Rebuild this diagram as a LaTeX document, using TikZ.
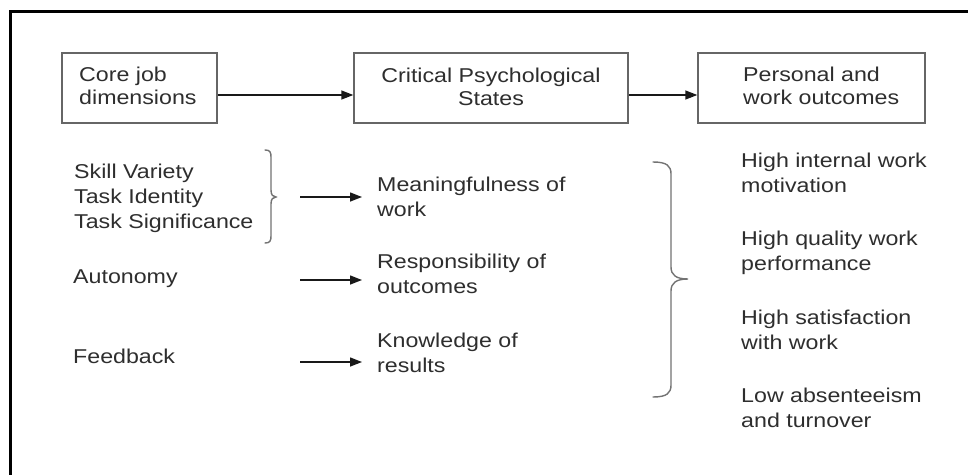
\documentclass[tikz,border=0pt]{standalone}
\usepackage{fontspec}
\setmainfont[FakeStretch=1.16]{Liberation Sans}
\usetikzlibrary{arrows.meta}
\begin{document}
\begin{tikzpicture}[x=1pt,y=-1pt,
  txt/.style={font=\fontsize{20}{25}\selectfont, text=black!82, align=left, inner sep=0pt, anchor=base west},
  btxt/.style={txt, font=\fontsize{20}{22.5}\selectfont},
  ctxt/.style={btxt, align=center, anchor=base},
  box/.style={draw=black!60, line width=1.4pt, minimum height=70pt, inner sep=0pt},
  arr/.style={-{Triangle[length=12pt,width=9pt]}, line width=1.4pt, draw=black!90, fill=black!90},
  brace/.style={draw=black!55, line width=1.4pt, line cap=round}
]
\useasboundingbox (0,0) rectangle (968,474);
\fill[white] (0,0) rectangle (968,474);
\draw[line width=3.5pt] (10.5,520) -- (10.5,11.5) -- (1000,11.5);

% top boxes
\node[box, minimum width=155pt] (b1) at (139.5,88) {};
\node[box, minimum width=274pt] (b2) at (491,88) {};
\node[box, minimum width=227pt] (b3) at (811.5,88) {};
\node[btxt] (t1) at (79,104) {Core job\\dimensions};
\node[ctxt] (t2) at (491,105) {Critical Psychological\\States};
\node[btxt] (t3) at (743,104) {Personal and\\work outcomes};
\draw[arr] ([yshift=-7pt]b1.east) -- ([yshift=-7pt]b2.west);
\draw[arr] ([yshift=-7pt]b2.east) -- ([yshift=-7pt]b3.west);

% left column (anchor = baseline of last line)
\node[txt] (s1) at (74,228) {Skill Variety\\Task Identity\\Task Significance};
\node[txt] (s2) at (73,283) {Autonomy};
\node[txt] (s3) at (73,363) {Feedback};

% middle column
\node[txt] (m1) at (377,216) {Meaningfulness of\\work};
\node[txt] (m2) at (377,293) {Responsibility of\\outcomes};
\node[txt] (m3) at (377,372) {Knowledge of\\results};

% right column
\node[txt] (r1) at (741,192) {High internal work\\motivation};
\node[txt] (r2) at (741,270) {High quality work\\performance};
\node[txt] (r3) at (741,349) {High satisfaction\\with work};
\node[txt] (r4) at (741,427) {Low absenteeism\\and turnover};

% brace 1
\coordinate (br1) at (276,197);
\draw[brace] (265,150) .. controls (270,150) and (271,152) .. (271,157) -- (271,190)
  .. controls (271,195) and (273,197) .. (br1)
  .. controls (273,197) and (271,199) .. (271,204) -- (271,236)
  .. controls (271,241) and (270,243) .. (265,243);

% brace 2
\coordinate (br2) at (688,279);
\draw[brace] (653,162) .. controls (667,162) and (671,166) .. (671,174) -- (671,267)
  .. controls (671,275) and (676,279) .. (br2)
  .. controls (676,279) and (671,283) .. (671,291) -- (671,385)
  .. controls (671,393) and (667,397) .. (653,397);

% arrows to psychological states
\coordinate (a2) at (300,280);
\coordinate (a3) at (300,362);
\draw[arr, shorten <=24pt, shorten >=15pt] (br1) -- (m1.west |- br1);
\draw[arr, shorten >=15pt] (a2) -- (m2.west |- a2);
\draw[arr, shorten >=15pt] (a3) -- (m3.west |- a3);
\end{tikzpicture}
\end{document}
